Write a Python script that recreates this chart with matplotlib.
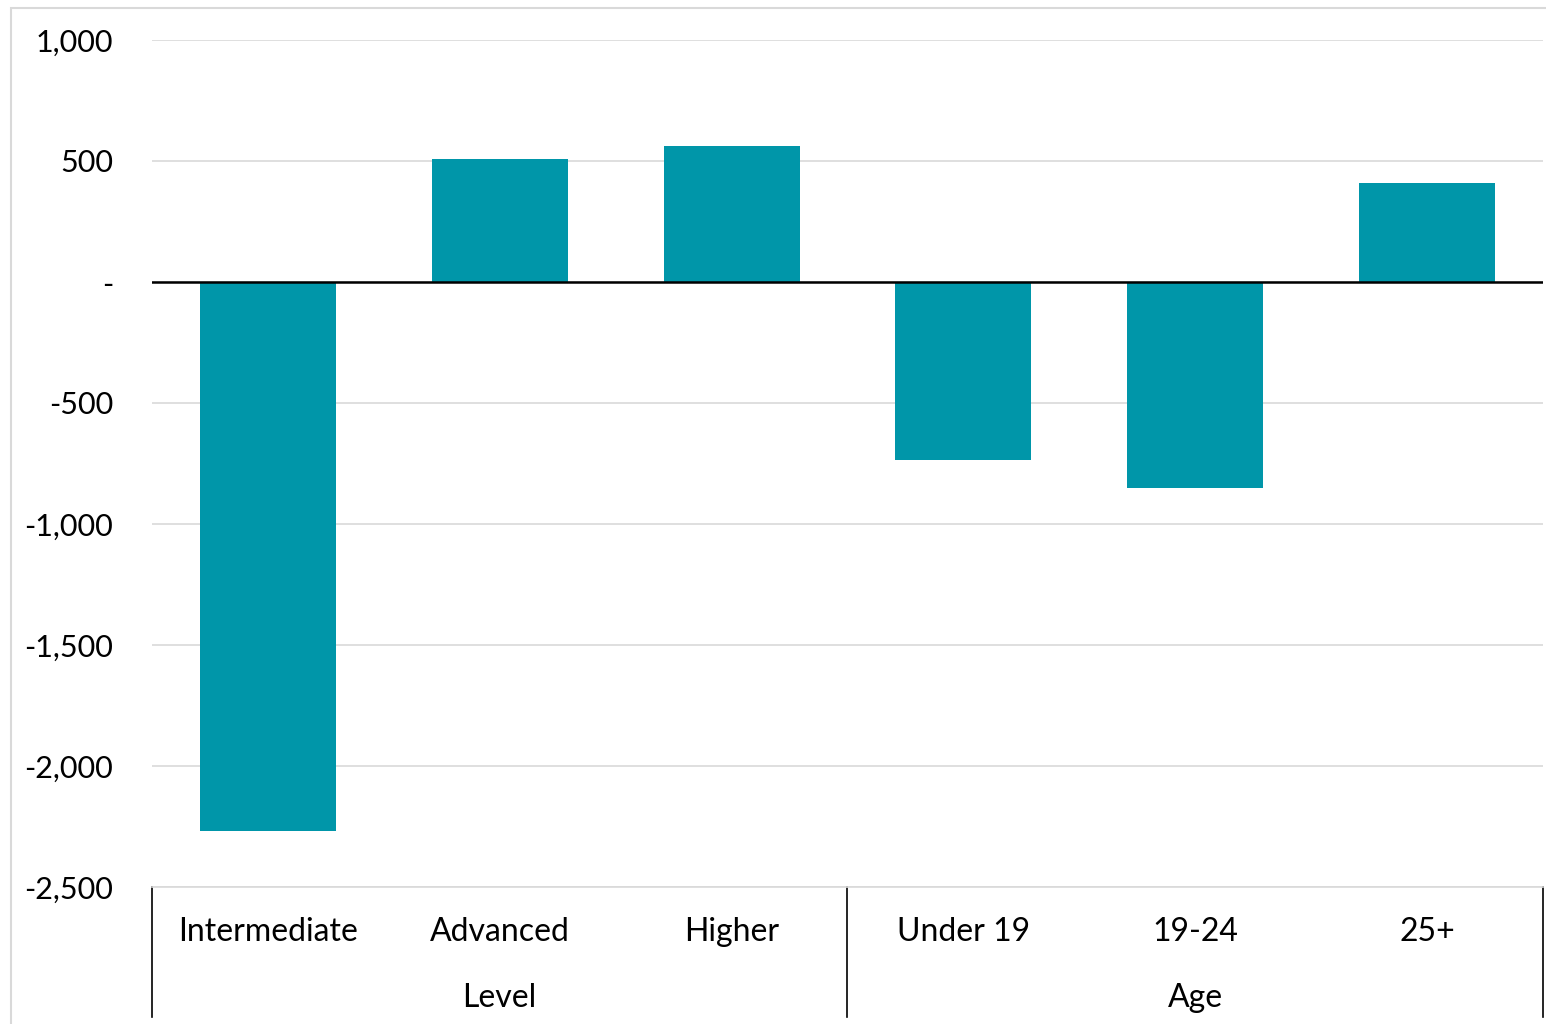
import matplotlib
matplotlib.use("Agg")
import matplotlib.pyplot as plt
from matplotlib.patches import Rectangle
from matplotlib.ticker import FuncFormatter

categories = ["Intermediate", "Advanced", "Higher", "Under 19", "19-24", "25+"]
values = [-2270, 510, 560, -735, -850, 410]
groups = ["Level", "Age"]
group_sizes = [3, 3]
yticks = [-2500, -2000, -1500, -1000, -500, 0, 500, 1000]

bar_color = "#0096A9"
plt.rcParams["font.family"] = ["Lato", "DejaVu Sans"]

W, H = 1546, 1024
fig = plt.figure(figsize=(W / 100, H / 100), dpi=100)
left, right, top, bottom = 152, 1543, 40, 887
ax = fig.add_axes([left / W, 1 - bottom / H, (right - left) / W, (bottom - top) / H])

# outer chart border (open at the bottom edge of the image)
fig.patches.append(Rectangle((11 / W, -0.05), 1, 1.05 - 8 / H, transform=fig.transFigure,
                             fill=False, edgecolor="#D9D9D9", linewidth=1.5))

x = list(range(len(categories)))
ax.bar(x, values, width=0.587, color=bar_color, zorder=3)
ax.axhline(0, color="black", linewidth=1.8, zorder=4)

ax.set_xlim(-0.5, len(categories) - 0.5)
ax.set_ylim(-2500, 1000)
ax.set_yticks(yticks)
ax.yaxis.set_major_formatter(FuncFormatter(lambda v, p: "-" if v == 0 else f"{int(v):,}"))
ax.grid(axis="y", color="#D9D9D9", linewidth=1.2, zorder=0)
ax.tick_params(axis="y", length=0, pad=28, labelsize=22)
ax.set_xticks([])
for s in ax.spines.values():
    s.set_visible(False)

# category labels and group labels below the axis
trans = ax.get_xaxis_transform()
for i, c in enumerate(categories):
    ax.text(i, -45 / (bottom - top), c, transform=trans, ha="center", va="center",
            fontsize=23, clip_on=False)

start = 0
bounds = [-0.5]
for g, n in zip(groups, group_sizes):
    center = start + (n - 1) / 2
    ax.text(center, -111 / (bottom - top), g, transform=trans, ha="center", va="center",
            fontsize=23, clip_on=False)
    start += n
    bounds.append(start - 0.5)

for b in bounds:
    ax.plot([b, b], [0, -130 / (bottom - top)], transform=trans, color="black",
            linewidth=1.2, clip_on=False)
ax.plot([-0.5, len(categories) - 0.5], [0, 0], transform=trans, color="#D9D9D9",
        linewidth=1.2, clip_on=False)

fig.savefig("out.png", dpi=100, facecolor="white")
